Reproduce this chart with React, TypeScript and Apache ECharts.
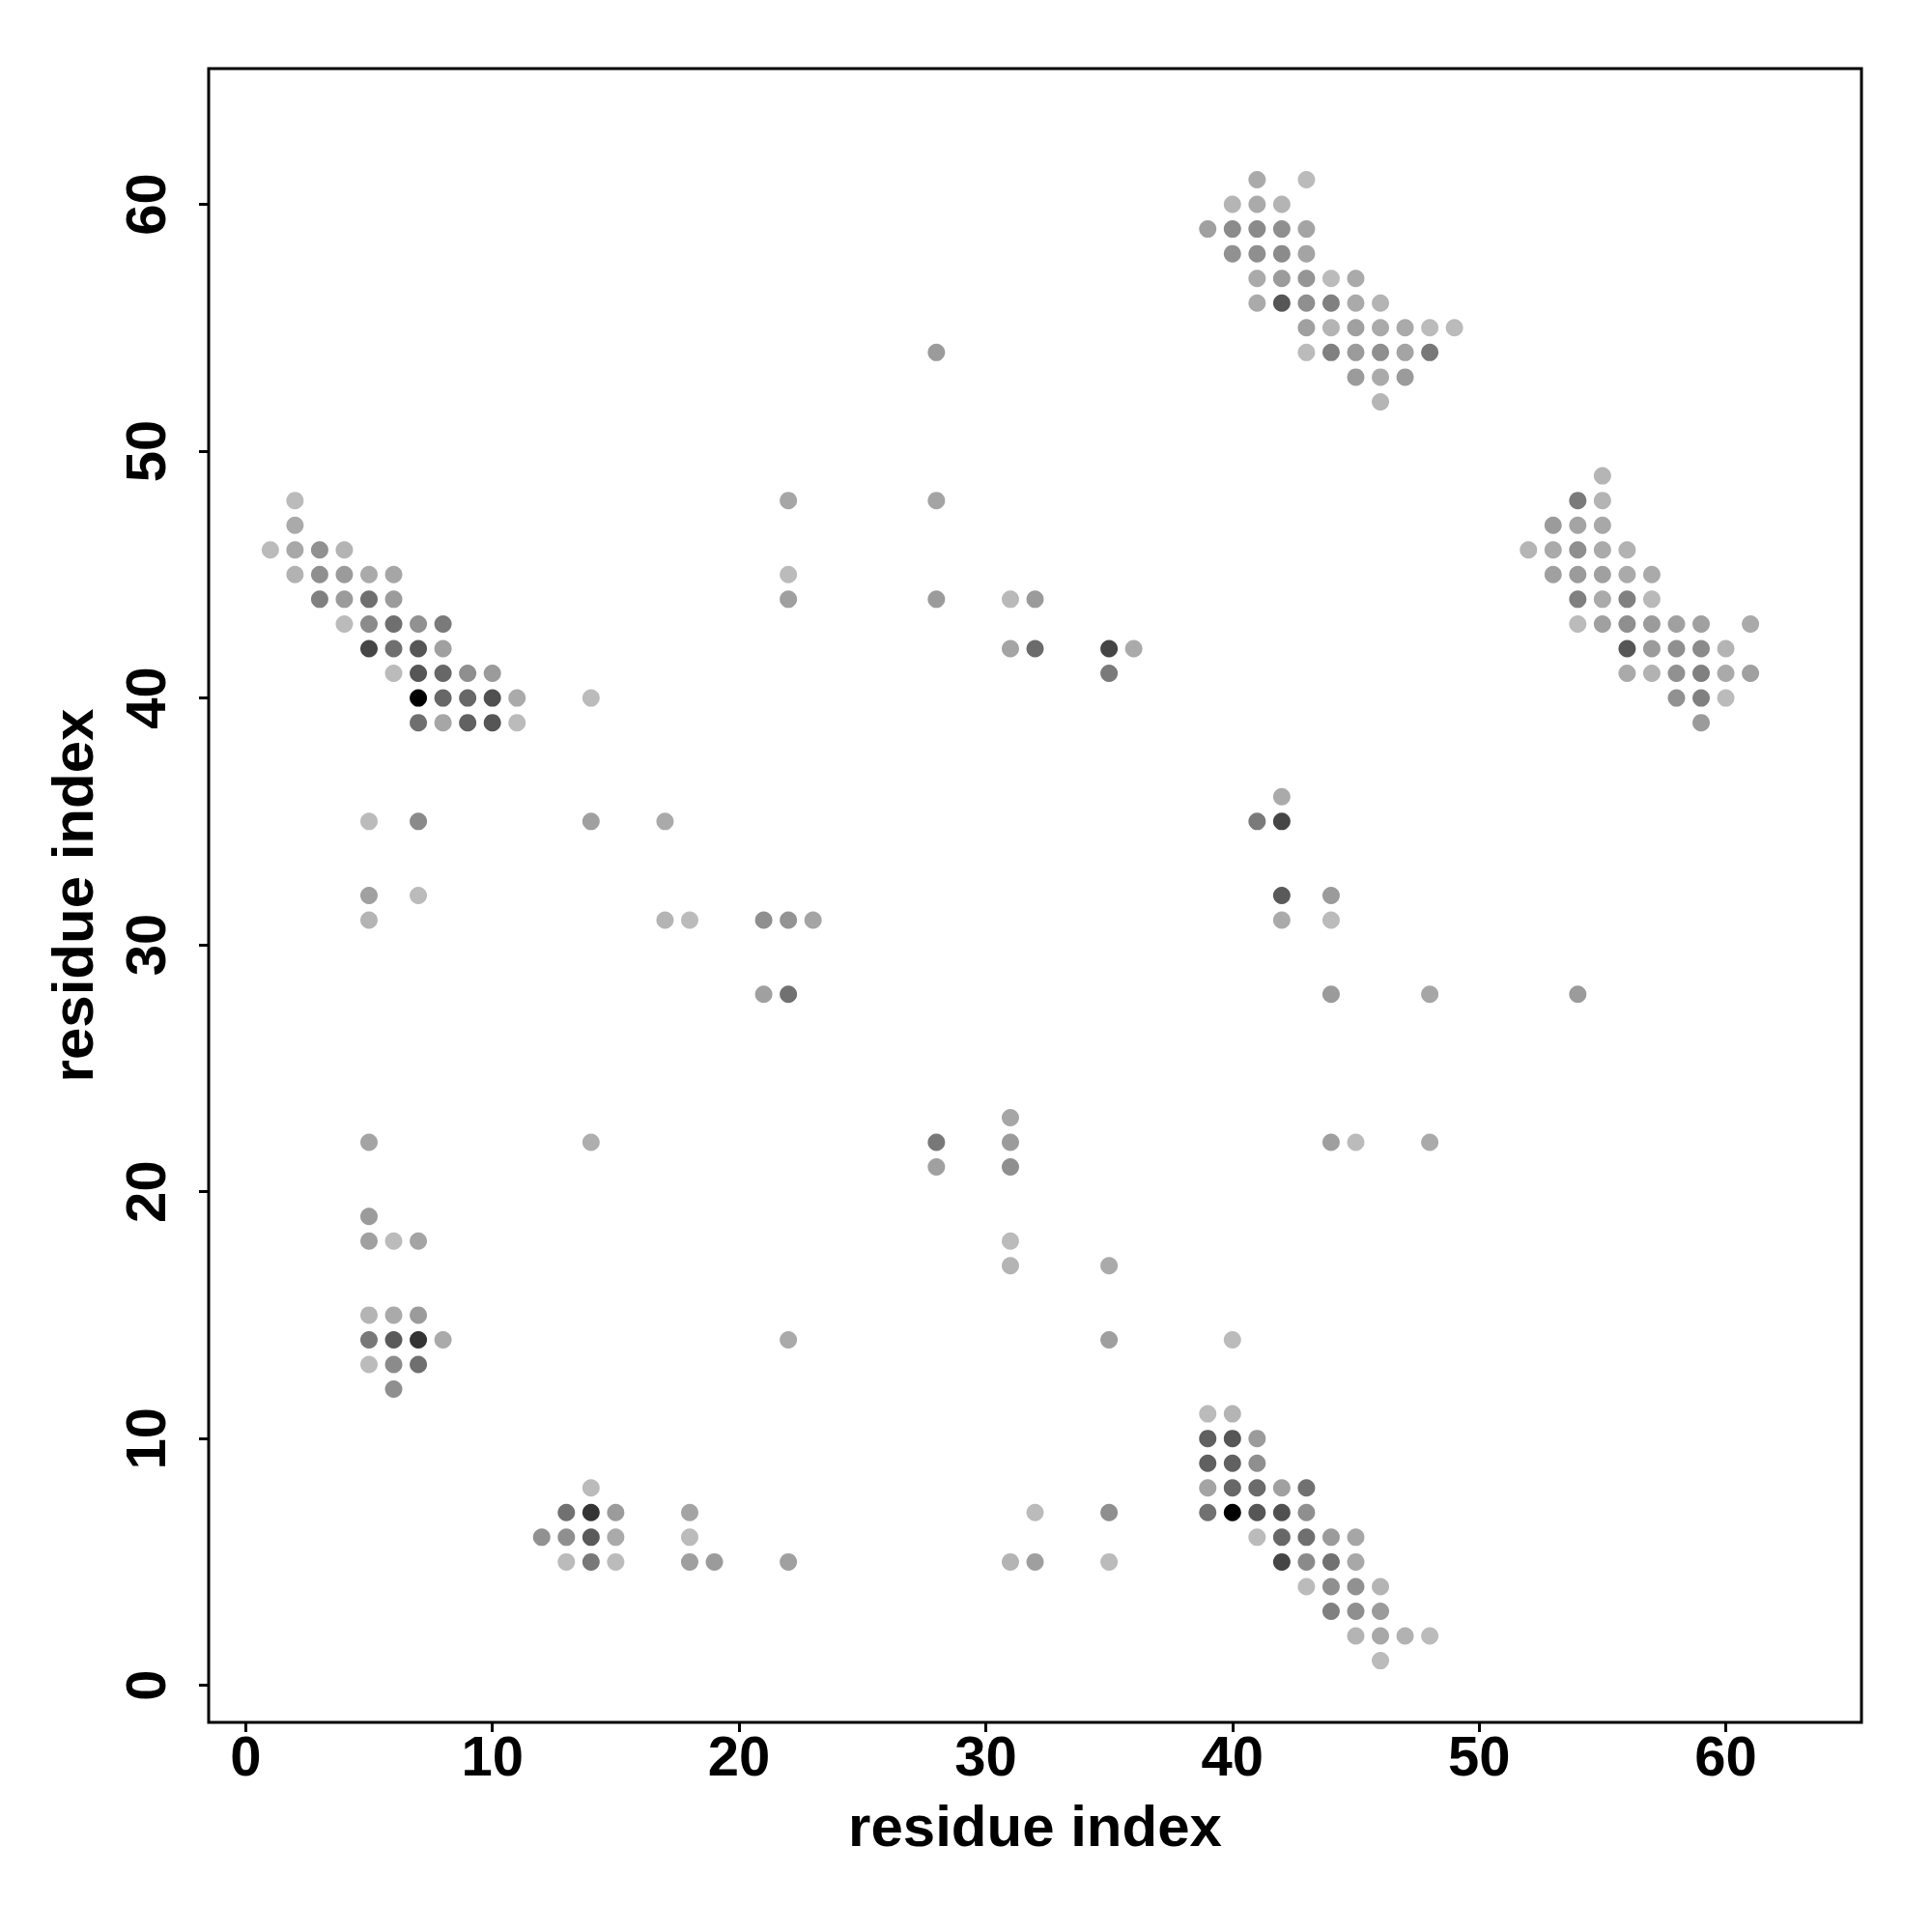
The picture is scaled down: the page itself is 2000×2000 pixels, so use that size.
import React, { useEffect, useRef } from "react";
import * as echarts from "echarts";

// [residue i, residue j, contact score]
const clusterTopRight: number[][] = [
  [41, 61, 0.11], [43, 61, 0.02],
  [40, 60, 0.05], [41, 60, 0.11], [42, 60, 0.06],
  [39, 59, 0.16], [40, 59, 0.27], [41, 59, 0.28], [42, 59, 0.25], [43, 59, 0.14],
  [40, 58, 0.24], [41, 58, 0.25], [42, 58, 0.27], [43, 58, 0.14],
  [41, 57, 0.11], [42, 57, 0.19], [43, 57, 0.22], [44, 57, 0.02], [45, 57, 0.11],
  [41, 56, 0.11], [42, 56, 0.55], [43, 56, 0.25], [44, 56, 0.33], [45, 56, 0.11], [46, 56, 0.06],
  [43, 55, 0.16], [44, 55, 0.06], [45, 55, 0.16], [46, 55, 0.11], [47, 55, 0.11], [48, 55, 0.02], [49, 55, 0.02],
  [43, 54, 0.02], [44, 54, 0.33], [45, 54, 0.19], [46, 54, 0.25], [47, 54, 0.14], [48, 54, 0.37],
  [45, 53, 0.19], [46, 53, 0.11], [47, 53, 0.19],
  [46, 52, 0.05],
];

const clusterRight: number[][] = [
  [55, 49, 0.05],
  [54, 48, 0.36], [55, 48, 0.06],
  [53, 47, 0.19], [54, 47, 0.14], [55, 47, 0.12],
  [52, 46, 0.05], [53, 46, 0.11], [54, 46, 0.25], [55, 46, 0.11], [56, 46, 0.07],
  [53, 45, 0.16], [54, 45, 0.19], [55, 45, 0.16], [56, 45, 0.11], [57, 45, 0.11],
  [54, 44, 0.33], [55, 44, 0.11], [56, 44, 0.33], [57, 44, 0.03],
  [54, 43, 0.02], [55, 43, 0.16], [56, 43, 0.25], [57, 43, 0.19], [58, 43, 0.16], [59, 43, 0.16], [61, 43, 0.11],
  [56, 42, 0.55], [57, 42, 0.19], [58, 42, 0.25], [59, 42, 0.27], [60, 42, 0.06],
  [56, 41, 0.11], [57, 41, 0.07], [58, 41, 0.24], [59, 41, 0.33], [60, 41, 0.11], [61, 41, 0.16],
  [58, 40, 0.24], [59, 40, 0.33], [60, 40, 0.02],
  [59, 39, 0.19],
];

const clusterLeft: number[][] = [
  [2, 48, 0.02],
  [2, 47, 0.11],
  [1, 46, 0.02], [2, 46, 0.12], [3, 46, 0.24], [4, 46, 0.06],
  [2, 45, 0.07], [3, 45, 0.25], [4, 45, 0.19], [5, 45, 0.11], [6, 45, 0.13],
  [3, 44, 0.33], [4, 44, 0.19], [5, 44, 0.42], [6, 44, 0.19],
  [4, 43, 0.02], [5, 43, 0.27], [6, 43, 0.42], [7, 43, 0.24], [8, 43, 0.36],
  [5, 42, 0.64], [6, 42, 0.42], [7, 42, 0.55], [8, 42, 0.16],
  [6, 41, 0.02], [7, 41, 0.55], [8, 41, 0.46], [9, 41, 0.25], [10, 41, 0.19],
  [7, 40, 1.0], [8, 40, 0.46], [9, 40, 0.46], [10, 40, 0.58], [11, 40, 0.11],
  [7, 39, 0.42], [8, 39, 0.13], [9, 39, 0.49], [10, 39, 0.55], [11, 39, 0.02],
];

const clusterBottomRight: number[][] = [
  [39, 11, 0.02], [40, 11, 0.06],
  [39, 10, 0.5], [40, 10, 0.55], [41, 10, 0.19],
  [39, 9, 0.5], [40, 9, 0.49], [41, 9, 0.25],
  [39, 8, 0.14], [40, 8, 0.46], [41, 8, 0.44], [42, 8, 0.16], [43, 8, 0.41],
  [39, 7, 0.41], [40, 7, 1.0], [41, 7, 0.55], [42, 7, 0.58], [43, 7, 0.25],
  [41, 6, 0.02], [42, 6, 0.46], [43, 6, 0.42], [44, 6, 0.19], [45, 6, 0.13],
  [42, 5, 0.64], [43, 5, 0.28], [44, 5, 0.41], [45, 5, 0.12],
  [43, 4, 0.02], [44, 4, 0.25], [45, 4, 0.24], [46, 4, 0.06],
  [44, 3, 0.33], [45, 3, 0.25], [46, 3, 0.19],
  [45, 2, 0.06], [46, 2, 0.12], [47, 2, 0.07], [48, 2, 0.02],
  [46, 1, 0.02],
];

const clusterBottomLeft: number[][] = [
  [14, 8, 0.02],
  [13, 7, 0.41], [14, 7, 0.73], [15, 7, 0.19], [18, 7, 0.14],
  [12, 6, 0.24], [13, 6, 0.25], [14, 6, 0.53], [15, 6, 0.11], [18, 6, 0.02],
  [13, 5, 0.02], [14, 5, 0.37], [15, 5, 0.02], [18, 5, 0.17], [19, 5, 0.19],
];

const clusterLowerLeft: number[][] = [
  [5, 22, 0.14],
  [5, 19, 0.19],
  [5, 18, 0.16], [6, 18, 0.02], [7, 18, 0.14],
  [5, 15, 0.06], [6, 15, 0.11], [7, 15, 0.19],
  [5, 14, 0.37], [6, 14, 0.53], [7, 14, 0.73], [8, 14, 0.11],
  [5, 13, 0.02], [6, 13, 0.27], [7, 13, 0.42],
  [6, 12, 0.25],
];

const scattered: number[][] = [
  [28, 54, 0.19],
  [22, 48, 0.13], [28, 48, 0.14],
  [22, 45, 0.02], [22, 44, 0.17], [28, 44, 0.19],
  [31, 44, 0.03], [32, 44, 0.19], [31, 42, 0.14], [32, 42, 0.44],
  [35, 42, 0.64], [36, 42, 0.11], [35, 41, 0.36],
  [14, 40, 0.02],
  [5, 35, 0.02], [7, 35, 0.28], [14, 35, 0.16], [17, 35, 0.11],
  [42, 36, 0.11], [41, 35, 0.36], [42, 35, 0.64],
  [5, 32, 0.16], [7, 32, 0.02], [42, 32, 0.53], [44, 32, 0.19],
  [5, 31, 0.06], [17, 31, 0.06], [18, 31, 0.02], [21, 31, 0.25], [22, 31, 0.23], [23, 31, 0.14],
  [42, 31, 0.11], [44, 31, 0.02],
  [21, 28, 0.16], [22, 28, 0.41], [44, 28, 0.19], [48, 28, 0.13], [54, 28, 0.19],
  [31, 23, 0.13], [28, 22, 0.37], [31, 22, 0.19], [14, 22, 0.09],
  [44, 22, 0.17], [45, 22, 0.02], [48, 22, 0.11],
  [28, 21, 0.16], [31, 21, 0.25],
  [31, 18, 0.02], [31, 17, 0.06], [35, 17, 0.11],
  [22, 14, 0.11], [35, 14, 0.17], [40, 14, 0.02],
  [32, 7, 0.02], [35, 7, 0.25],
  [22, 5, 0.16], [31, 5, 0.06], [32, 5, 0.17], [35, 5, 0.02],
];

const tickValues = [0, 10, 20, 30, 40, 50, 60];
const axisTitle = "residue index";

const FONT = "'Liberation Sans', Arial, Helvetica, sans-serif";

export default function App() {
  const ref = useRef<HTMLDivElement>(null);

  useEffect(() => {
    if (!ref.current) return;
    const chart = echarts.init(ref.current, null, { renderer: "svg" });
    const allPoints = [
      ...clusterTopRight,
      ...clusterRight,
      ...clusterLeft,
      ...clusterBottomRight,
      ...clusterBottomLeft,
      ...clusterLowerLeft,
      ...scattered,
    ];
    const labelStyle = {
      fontSize: 58,
      fontWeight: "bold" as const,
      fontFamily: FONT,
      color: "#000",
    };
    const nameStyle = { ...labelStyle, fontSize: 60 };
    chart.setOption({
      animation: false,
      backgroundColor: "#fff",
      grid: {
        left: 216,
        top: 71,
        width: 1711,
        height: 1712,
        show: true,
        borderColor: "#000",
        borderWidth: 3,
        backgroundColor: "transparent",
      },
      visualMap: {
        show: false,
        type: "continuous",
        dimension: 2,
        min: 0,
        max: 1,
        inRange: { color: ["#bfbfbf", "#000000"] },
      },
      xAxis: {
        type: "value",
        min: -1.5,
        max: 65.5,
        name: axisTitle,
        nameLocation: "middle",
        nameGap: 77,
        nameTextStyle: { ...nameStyle, verticalAlign: "top" },
        axisLine: { show: false, onZero: false },
        splitLine: { show: false },
        axisTick: {
          show: true,
          customValues: tickValues,
          length: 10,
          inside: false,
          lineStyle: { color: "#000", width: 3 },
        },
        axisLabel: {
          customValues: tickValues,
          margin: 5,
          ...labelStyle,
        },
      },
      yAxis: {
        type: "value",
        min: -1.5,
        max: 65.5,
        name: axisTitle,
        nameLocation: "middle",
        nameGap: 111,
        nameTextStyle: { ...nameStyle },
        axisLine: { show: false, onZero: false },
        splitLine: { show: false },
        axisTick: {
          show: true,
          customValues: tickValues,
          length: 10,
          inside: false,
          lineStyle: { color: "#000", width: 3 },
        },
        axisLabel: {
          customValues: tickValues,
          rotate: 90,
          margin: 37,
          ...labelStyle,
        },
      },
      series: [
        {
          type: "scatter",
          symbol: "circle",
          symbolSize: 18,
          data: allPoints,
          itemStyle: { opacity: 1 },
        },
      ],
    });
    return () => chart.dispose();
  }, []);

  return (
    <div
      ref={ref}
      style={{ position: "absolute", left: 0, top: 0, width: 2000, height: 2000 }}
    />
  );
}
